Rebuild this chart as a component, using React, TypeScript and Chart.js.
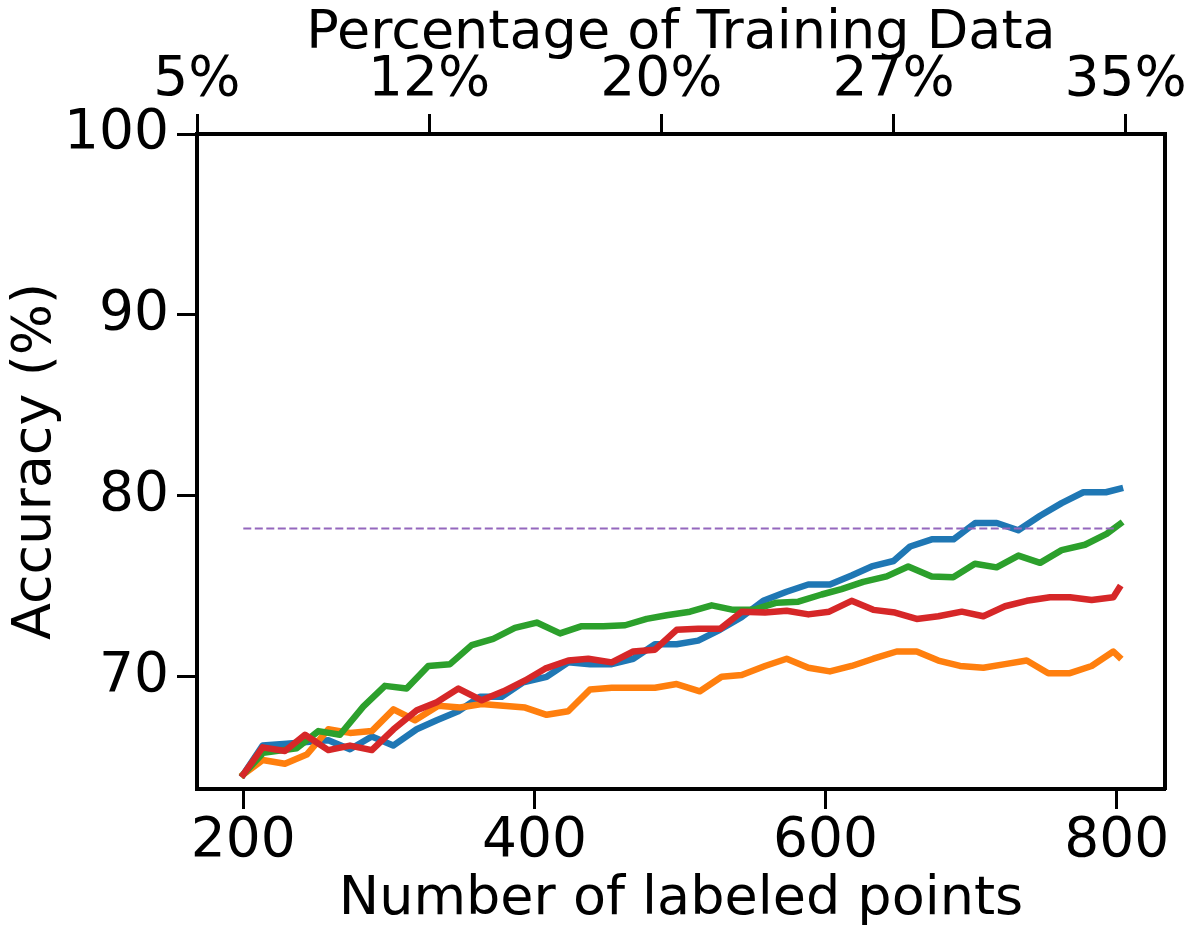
import { useEffect, useRef } from "react";
import { Chart, registerables } from "chart.js";

Chart.register(...registerables);

// bottom axis: number of labeled points
const bottomTicks = [200, 400, 600, 800];
// top axis: percentage of training data
const topTicks = [5, 12.5, 20, 27.5, 35];
const yTicks = [70, 80, 90, 100];

const blueX = [200, 213.3, 229.8, 243.6, 258.4, 273.3, 288.3, 303.0, 319.1, 332.9, 347.7, 362.6, 377.5, 392.3, 408.4, 423.3, 438.2, 453.1, 467.9, 482.8, 497.7, 512.5, 527.4, 542.3, 557.2, 573.2, 588.1, 603.0, 617.9, 631.7, 646.7, 658.1, 673.0, 687.9, 702.8, 717.7, 732.4, 747.4, 762.2, 777.1, 792.6, 802.3];
const blueY = [64.6, 66.2, 66.3, 66.4, 66.5, 66.0, 66.7, 66.2, 67.1, 67.6, 68.1, 68.9, 68.9, 69.7, 70.0, 70.8, 70.7, 70.7, 71.0, 71.8, 71.8, 72.0, 72.6, 73.3, 74.2, 74.7, 75.1, 75.1, 75.6, 76.1, 76.4, 77.2, 77.6, 77.6, 78.5, 78.5, 78.1, 78.9, 79.6, 80.2, 80.2, 80.4];

const orangeX = [200, 213.3, 228.6, 243.6, 258.4, 273.3, 288.3, 303.2, 318.0, 334.0, 348.9, 363.8, 378.6, 393.6, 408.4, 423.2, 438.2, 453.1, 467.9, 482.8, 497.7, 513.7, 528.6, 542.4, 558.4, 573.3, 588.2, 603.0, 617.9, 632.8, 648.9, 662.6, 677.5, 692.4, 708.4, 723.3, 738.2, 753.0, 767.9, 782.8, 797.7, 801.6];
const orangeY = [64.6, 65.4, 65.2, 65.7, 67.1, 66.9, 67.0, 68.2, 67.6, 68.4, 68.3, 68.5, 68.4, 68.3, 67.9, 68.1, 69.3, 69.4, 69.4, 69.4, 69.6, 69.2, 70.0, 70.1, 70.6, 71.0, 70.5, 70.3, 70.6, 71.0, 71.4, 71.4, 70.9, 70.6, 70.5, 70.7, 70.9, 70.2, 70.2, 70.6, 71.4, 71.1];

const greenX = [200, 213.7, 236.7, 251.6, 266.4, 282.4, 297.3, 312.2, 327.1, 342.0, 356.9, 371.7, 386.6, 401.6, 417.6, 432.5, 447.3, 462.3, 477.1, 490.9, 506.9, 521.8, 536.6, 550.4, 566.4, 581.3, 597.3, 611.0, 625.9, 642.0, 656.8, 672.9, 687.7, 702.6, 717.5, 732.5, 747.4, 762.2, 778.2, 793.1, 802.3];
const greenY = [64.6, 65.8, 66.05, 67.0, 66.8, 68.35, 69.5, 69.35, 70.6, 70.7, 71.75, 72.1, 72.7, 73.0, 72.4, 72.8, 72.8, 72.85, 73.2, 73.4, 73.6, 73.95, 73.7, 73.7, 74.1, 74.15, 74.55, 74.85, 75.25, 75.55, 76.1, 75.55, 75.5, 76.25, 76.05, 76.7, 76.3, 77.0, 77.3, 77.9, 78.45];

const redX = [200, 213.3, 228.6, 242.4, 258.4, 273.3, 288.3, 303.2, 319.2, 332.9, 347.8, 363.8, 378.7, 393.6, 407.3, 423.3, 437.0, 453.1, 467.9, 482.8, 497.7, 512.5, 527.6, 542.4, 558.4, 573.3, 588.2, 602.5, 617.9, 632.8, 647.7, 662.6, 677.5, 693.6, 708.4, 723.3, 738.2, 754.2, 767.9, 782.8, 797.7, 801.6];
const redY = [64.6, 66.1, 65.9, 66.8, 65.95, 66.2, 65.95, 67.1, 68.15, 68.6, 69.35, 68.7, 69.2, 69.8, 70.45, 70.9, 71.0, 70.8, 71.4, 71.5, 72.6, 72.65, 72.65, 73.6, 73.55, 73.65, 73.45, 73.6, 74.2, 73.7, 73.55, 73.2, 73.35, 73.6, 73.35, 73.9, 74.2, 74.4, 74.4, 74.25, 74.4, 74.9];

// dashed reference level
const refX = [200, 800];
const refY = [78.2, 78.2];

const FONT = "DejaVu Sans";
const zip = (xs: number[], ys: number[]) => xs.map((x, i) => ({ x, y: ys[i] }));

export default function App() {
  const canvasRef = useRef<HTMLCanvasElement | null>(null);

  useEffect(() => {
    if (!canvasRef.current) return;
    const tickFont = { family: FONT, size: 55 };
    const titleFont = { family: FONT, size: 54 };
    const line = (label: string, xs: number[], ys: number[], color: string, order: number) => ({
      label,
      data: zip(xs, ys),
      borderColor: color,
      backgroundColor: color,
      borderWidth: 6.5,
      pointRadius: 0,
      tension: 0,
      borderCapStyle: "square" as const,
      borderJoinStyle: "round" as const,
      xAxisID: "x",
      yAxisID: "y",
      order,
    });
    const axisGrid = { drawOnChartArea: false, tickLength: 20, tickWidth: 3, tickColor: "#000" };
    const border = { color: "#000", width: 4 };

    const chart = new Chart(canvasRef.current, {
      type: "line",
      data: {
        datasets: [
          line("blue", blueX, blueY, "#1f77b4", 4),
          line("orange", orangeX, orangeY, "#ff7f0e", 3),
          line("green", greenX, greenY, "#2ca02c", 2),
          line("red", redX, redY, "#d62728", 1),
          {
            label: "reference",
            data: zip(refX, refY),
            borderColor: "#9467bd",
            borderWidth: 2,
            borderDash: [8, 3.5],
            pointRadius: 0,
            xAxisID: "x",
            yAxisID: "y",
            order: 0,
          },
        ],
      },
      options: {
        animation: false,
        responsive: false,
        layout: { padding: { left: 0, right: 30, top: 0, bottom: 0 } },
        plugins: { legend: { display: false }, tooltip: { enabled: false } },
        scales: {
          x: {
            type: "linear",
            position: "bottom",
            min: 168.2,
            max: 833.2,
            afterBuildTicks: (s: any) => {
              s.ticks = bottomTicks.map((v) => ({ value: v }));
            },
            afterFit: (s: any) => {
              s.height = 145;
            },
            grid: axisGrid,
            border,
            ticks: { font: tickFont, color: "#000", padding: 0, maxRotation: 0 },
            title: {
              display: true,
              text: "Number of labeled points",
              font: titleFont,
              color: "#000",
              padding: { top: 0, bottom: 2 },
            },
          },
          xTop: {
            type: "linear",
            position: "top",
            min: 5,
            max: 36.27,
            afterBuildTicks: (s: any) => {
              s.ticks = topTicks.map((v) => ({ value: v }));
            },
            afterFit: (s: any) => {
              s.height = 134;
            },
            grid: axisGrid,
            border,
            ticks: {
              font: tickFont,
              color: "#000",
              padding: 0,
              maxRotation: 0,
              callback: (v: any) => Math.floor(Number(v)) + "%",
            },
            title: {
              display: true,
              text: "Percentage of Training Data",
              font: titleFont,
              color: "#000",
              padding: { top: 2, bottom: 0 },
            },
          },
          y: {
            type: "linear",
            position: "left",
            min: 63.8,
            max: 100,
            afterBuildTicks: (s: any) => {
              s.ticks = yTicks.map((v) => ({ value: v }));
            },
            afterFit: (s: any) => {
              s.width = 197;
            },
            grid: axisGrid,
            border,
            ticks: { font: tickFont, color: "#000", padding: 8 },
            title: {
              display: true,
              text: "Accuracy (%)",
              font: titleFont,
              color: "#000",
              padding: { top: 4, bottom: 0 },
            },
          },
          yRight: {
            type: "linear",
            position: "right",
            afterFit: (s: any) => {
              s.width = 0;
            },
            grid: { display: false },
            border,
            ticks: { display: false },
          },
        },
      },
    });

    return () => chart.destroy();
  }, []);

  return (
    <div style={{ position: "absolute", left: 0, top: 0, width: 1195, height: 934, background: "#fff" }}>
      <canvas ref={canvasRef} width={1195} height={934} />
    </div>
  );
}
